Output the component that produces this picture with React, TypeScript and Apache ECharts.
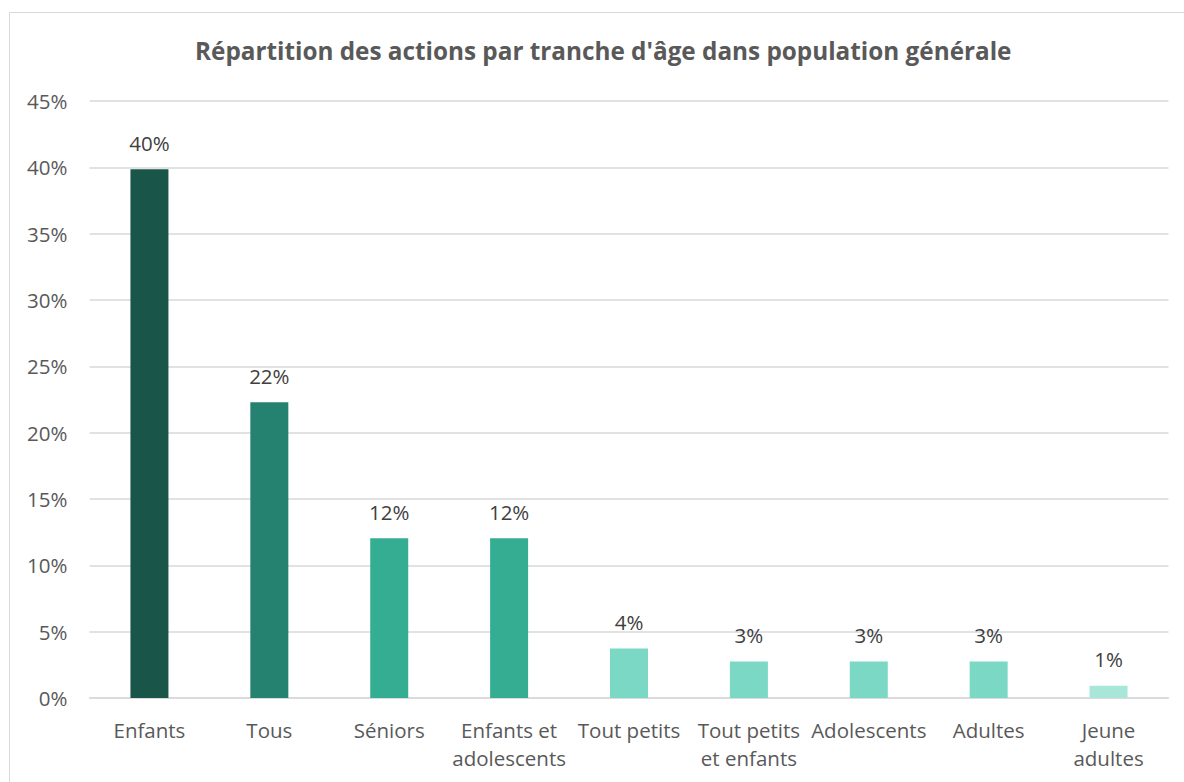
import React, { useEffect, useRef } from "react";
import * as echarts from "echarts";

const categories = [
  "Enfants",
  "Tous",
  "Séniors",
  "Enfants et\nadolescents",
  "Tout petits",
  "Tout petits\net enfants",
  "Adolescents",
  "Adultes",
  "Jeune\nadultes",
];
const values = [39.85, 22.3, 12.05, 12.05, 3.73, 2.75, 2.75, 2.75, 0.93];
const colors = ["#1A554A", "#268270", "#35AD93", "#35AD93", "#7AD8C5", "#7AD8C5", "#7AD8C5", "#7AD8C5", "#A8E6D9"];
const titleText = "Répartition des actions par tranche d'âge dans population générale";

const FONT = "'Open Sans', 'Noto Sans', sans-serif";

export default function App() {
  const ref = useRef<HTMLDivElement>(null);
  useEffect(() => {
    document.body.style.margin = "0";
    const chart = echarts.init(ref.current!, null, { renderer: "svg" });
    chart.setOption({
      animation: false,
      backgroundColor: "#ffffff",
      textStyle: { fontFamily: FONT },
      title: {
        text: titleText,
        left: 190,
        top: 33,
        textStyle: { fontFamily: FONT, fontSize: 24.3, fontWeight: "bold", color: "#595959" },
      },
      graphic: [
        {
          type: "rect",
          shape: { x: 9.5, y: 12.5, width: 1200, height: 800 },
          style: { fill: "none", stroke: "#d9d9d9", lineWidth: 1 },
          silent: true,
          z: -10,
        },
      ],
      grid: { left: 89.5, right: 15.5, top: 101, bottom: 84, containLabel: false },
      xAxis: {
        type: "category",
        data: categories,
        axisLine: { lineStyle: { color: "#d9d9d9", width: 1.5 } },
        axisTick: { show: false },
        axisLabel: {
          interval: 0,
          color: "#595959",
          fontSize: 20.5,
          fontFamily: FONT,
          lineHeight: 28,
          margin: 18,
        },
      },
      yAxis: {
        type: "value",
        min: 0,
        max: 45,
        interval: 5,
        axisLine: { show: false },
        axisTick: { show: false },
        splitLine: { lineStyle: { color: "#d9d9d9", width: 1.5 } },
        axisLabel: {
          formatter: "{value}%",
          color: "#595959",
          fontSize: 20.5,
          fontFamily: FONT,
          margin: 22,
        },
      },
      series: [
        {
          type: "bar",
          data: values.map((v, i) => ({ value: v, itemStyle: { color: colors[i] } })),
          barWidth: 38,
          label: {
            show: true,
            position: "top",
            distance: 16,
            formatter: (p: any) => Math.round(p.value) + "%",
            color: "#404040",
            fontSize: 20.5,
            fontFamily: FONT,
          },
        },
      ],
    });
    return () => chart.dispose();
  }, []);
  return <div ref={ref} style={{ width: 1184, height: 782, position: "absolute", left: 0, top: 0 }} />;
}
